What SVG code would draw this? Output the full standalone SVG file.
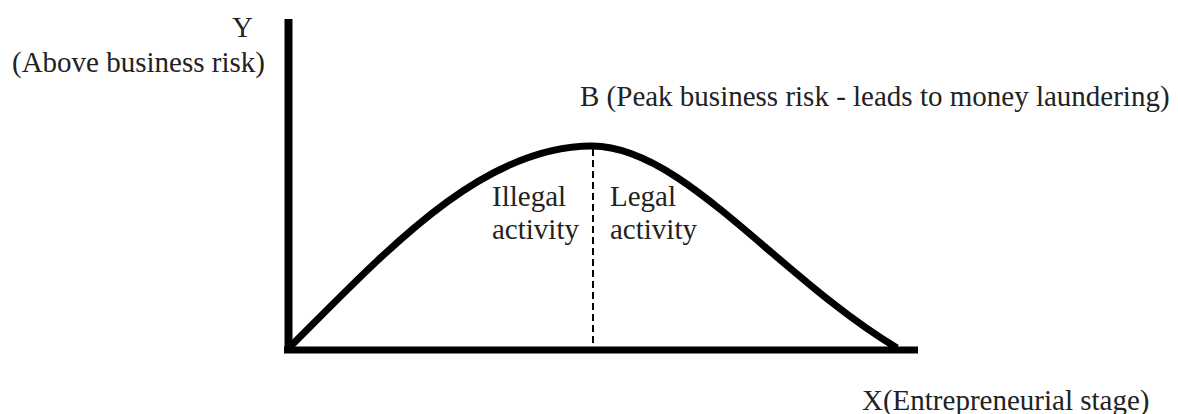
<svg xmlns="http://www.w3.org/2000/svg" width="1178" height="414" viewBox="0 0 1178 414">
  <style>
    .lbl { font-family: "Liberation Serif", "Times New Roman", serif; font-size: 29px; fill: #222; }
    .axis { stroke: #000; fill: none; stroke-linecap: butt; }
    .curve { stroke: #000; stroke-width: 7; fill: none; stroke-linejoin: round; }
    .divider { stroke: #000; stroke-width: 2; stroke-dasharray: 7 4; fill: none; }
  </style>
  <rect width="1178" height="414" fill="#fff"/>

  <!-- axes -->
  <g id="axes">
    <line class="axis" x1="288.5" y1="19" x2="288.5" y2="353" stroke-width="8"/>
    <line class="axis" x1="284" y1="350" x2="918" y2="350" stroke-width="7"/>
  </g>

  <!-- risk curve and peak divider -->
  <g id="connectors">
    <path class="curve" d="M288,349 C388,249 482,146 592,146 C682,146 777,276 897,348"/>
    <line class="divider" x1="593" y1="149" x2="593" y2="350"/>
  </g>

  <!-- labels -->
  <g id="y-axis-label">
    <text class="lbl" x="232" y="37">Y</text>
    <text class="lbl" x="12" y="72">(Above business risk)</text>
  </g>
  <g id="peak-label">
    <text class="lbl" x="580" y="106">B (Peak business risk - leads to money laundering)</text>
  </g>
  <g id="illegal-region">
    <text class="lbl" x="492" y="206">Illegal</text>
    <text class="lbl" x="492" y="239">activity</text>
  </g>
  <g id="legal-region">
    <text class="lbl" x="610" y="206">Legal</text>
    <text class="lbl" x="610" y="239">activity</text>
  </g>
  <g id="x-axis-label">
    <text class="lbl" x="862" y="410">X(Entrepreneurial stage)</text>
  </g>
</svg>
